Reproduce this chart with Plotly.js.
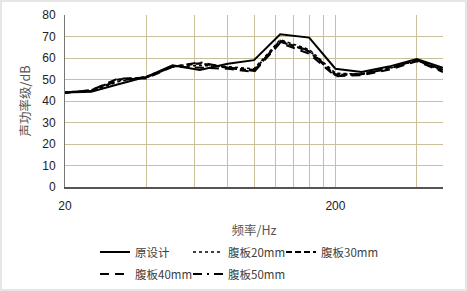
<!DOCTYPE html>
<html><head><meta charset="utf-8">
<script src="https://cdn.plot.ly/plotly-3.0.1.min.js"></script>
<style>
html,body{margin:0;padding:0;background:#fff;}
#wrap{position:relative;width:467px;height:291px;}
#chart{width:467px;height:291px;}
#frame{position:absolute;left:0;top:0;width:463px;height:287px;border:2px solid #e6e6e6;pointer-events:none;}
</style></head>
<body>
<div id="wrap"><div id="chart"></div><div id="frame"></div></div>
<script>
const freqs = [20, 25, 31.5, 40, 50, 63, 80, 100, 125, 160, 200, 250, 315, 400, 500];
const original = [44, 44.3, 47.8, 51.2, 56.6, 54.4, 57.3, 59.0, 71.0, 69.5, 55.0, 53.5, 56.0, 59.5, 55.5];
const web20 = [44, 44.5, 49.0, 51.5, 56.0, 56.5, 56.0, 55.0, 68.5, 64.0, 53.0, 52.5, 55.0, 59.0, 54.5];
const web30 = [43.8, 45.0, 50.0, 51.0, 56.0, 57.5, 55.5, 54.0, 68.0, 63.0, 52.0, 52.5, 55.5, 59.0, 54.0];
const web40 = [44, 45.0, 50.5, 50.5, 56.0, 55.5, 55.0, 53.5, 67.0, 62.0, 51.5, 52.0, 54.5, 58.5, 53.5];
const web50 = [44, 44.8, 49.5, 51.0, 56.0, 58.0, 55.5, 54.5, 67.5, 63.5, 52.5, 52.5, 55.0, 59.0, 54.5];
const seriesNames = ['原设计', '腹板20mm', '腹板30mm', '腹板40mm', '腹板50mm'];
const xTickVals = [20, 40, 60, 80, 100, 120, 140, 160, 180, 200, 400];
const xTickText = ['20', '', '', '', '', '', '', '', '', '200', ''];
const yTickVals = [0, 10, 20, 30, 40, 50, 60, 70, 80];

const styles = [
  {dash: 'solid', width: 2},
  {dash: 'dot', width: 1.5},
  {dash: '6px,3px', width: 2.2},
  {dash: '9px,6px', width: 2},
  {dash: '9px,5px,2px,5px', width: 2}
];
const legendIds = ['legend', 'legend2', 'legend3', 'legend4', 'legend5'];
const data = [original, web20, web30, web40, web50].map((ys, i) => ({
  x: freqs, y: ys, name: seriesNames[i], type: 'scatter', mode: 'lines',
  line: {color: '#000', width: styles[i].width, dash: styles[i].dash},
  legend: legendIds[i]
}));

const fontFam = '"Noto Sans CJK SC", "Liberation Sans", sans-serif';
const plotW = 378, plotH = 172, mL = 65, mT = 15;
const legendPos = [[95, 252], [188, 252], [281, 252], [95, 274], [188, 274]];
const layout = {
  width: 467, height: 291,
  margin: {l: mL, r: 24, t: mT, b: 104, autoexpand: false},
  paper_bgcolor: '#fff', plot_bgcolor: '#fff',
  showlegend: true,
  font: {family: fontFam, size: 12, color: '#404040'},
  xaxis: {
    type: 'log', range: [Math.log10(20), Math.log10(500)],
    tickmode: 'array', tickvals: xTickVals, ticktext: xTickText,
    showgrid: true, gridcolor: '#c9bf99', gridwidth: 1,
    showline: true, linecolor: '#555', linewidth: 1.5,
    ticks: 'outside', ticklen: 7, tickcolor: 'rgba(0,0,0,0)',
    tickfont: {family: '"Liberation Sans", sans-serif', size: 12, color: '#222'},
    zeroline: false,
    title: {text: '频率/Hz', font: {family: fontFam, size: 12.5, color: '#555'}, standoff: 14}
  },
  yaxis: {
    range: [0, 80], tickmode: 'array', tickvals: yTickVals,
    showgrid: true, gridcolor: '#c9bf99', gridwidth: 1,
    showline: true, linecolor: '#777', linewidth: 1,
    ticks: 'outside', ticklen: 6, tickcolor: 'rgba(0,0,0,0)',
    tickfont: {family: '"Liberation Sans", sans-serif', size: 12, color: '#222'},
    zeroline: false,
    title: {text: '声功率级/dB', font: {family: fontFam, size: 12.5, color: '#555'}, standoff: 8}
  }
};
legendIds.forEach((id, i) => {
  layout[id] = {
    orientation: 'h', xanchor: 'left', yanchor: 'middle',
    x: (legendPos[i][0] - mL) / plotW,
    y: 1 - (legendPos[i][1] - mT) / plotH,
    font: {family: fontFam, size: 11.5, color: '#404040'},
    bgcolor: 'rgba(0,0,0,0)', itemwidth: 30
  };
});
Plotly.newPlot('chart', data, layout, {displayModeBar: false, staticPlot: true});
</script>
</body></html>
